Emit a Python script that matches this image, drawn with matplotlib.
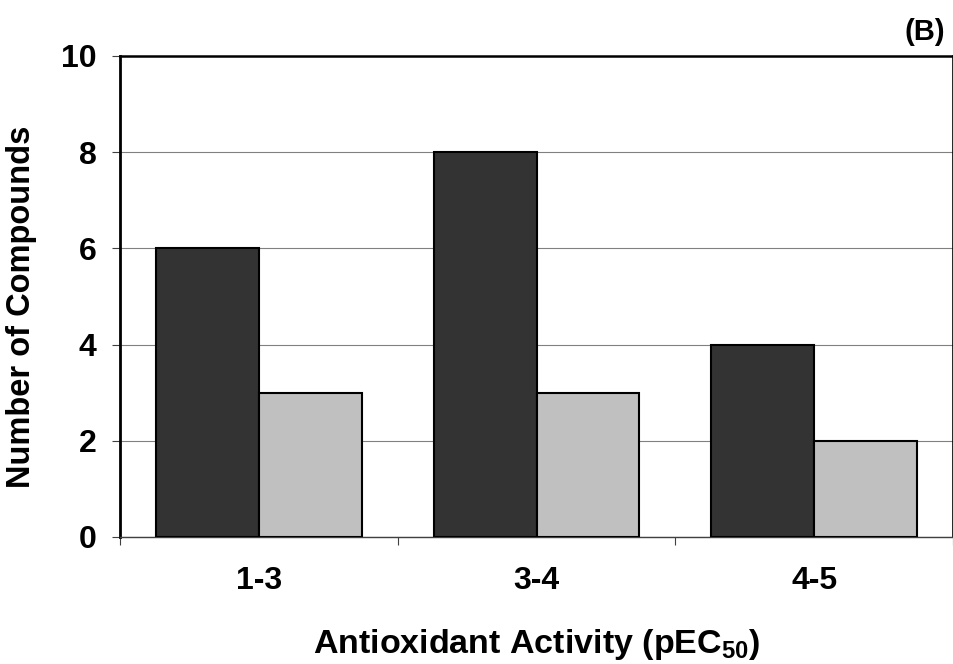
import matplotlib
matplotlib.use("Agg")
import matplotlib.pyplot as plt
import numpy as np

# dados
CATEGORIAS = ["1-3", "3-4", "4-5"]
SERIE_ESCURA = [6, 8, 4]
SERIE_CLARA = [3, 3, 2]

ESCURO = "#333333"
CLARO = "#c0c0c0"
TAM = 23

plt.rcParams.update({
    "font.family": ["Liberation Sans", "DejaVu Sans"],
    "font.weight": "bold",
    "mathtext.fontset": "custom",
    "mathtext.bf": "Liberation Sans:bold",
    "mathtext.rm": "Liberation Sans:bold",
    "mathtext.default": "bf",
})

fig = plt.figure(figsize=(9.54, 6.64), dpi=100)
ax = fig.add_axes([0.1258, 0.1913, 0.8732, 0.7244])

x = np.arange(len(CATEGORIAS))
largura = 0.37
ax.bar(x - largura / 2, SERIE_ESCURA, largura, color=ESCURO,
       edgecolor="black", linewidth=1.5, zorder=3)
ax.bar(x + largura / 2, SERIE_CLARA, largura, color=CLARO,
       edgecolor="black", linewidth=1.5, zorder=3)

ax.set_xlim(-0.5, len(CATEGORIAS) - 0.5)
ax.set_ylim(0, 10)
ax.set_yticks(np.arange(0, 11, 2))
ax.yaxis.grid(True, color="#808080", linewidth=0.8, zorder=0)

# rótulos no centro, marcas nos limites das categorias
ax.set_xticks(x)
ax.set_xticklabels(CATEGORIAS, fontsize=TAM, fontweight="bold")
ax.set_xticks(np.arange(-0.5, len(CATEGORIAS)), minor=True)
ax.tick_params(axis="x", which="major", length=0, pad=21)
ax.tick_params(axis="x", which="minor", length=6, width=0.8,
               color="#404040", direction="out")
ax.tick_params(axis="y", length=6, width=0.8, color="#404040",
               direction="out", pad=11, labelsize=TAM)
for t in ax.get_yticklabels():
    t.set_fontweight("bold")

ax.spines["left"].set_linewidth(2)
ax.spines["top"].set_linewidth(1.8)
ax.spines["right"].set_linewidth(1.2)
ax.spines["bottom"].set_linewidth(1.0)
ax.spines["bottom"].set_color("#404040")

ax.set_ylabel("Number of Compounds", fontsize=23.5, fontweight="bold")
ax.yaxis.set_label_coords(-0.1, 0.478)
ax.set_xlabel("Antioxidant Activity (pEC$_{50}$)", fontsize=24.5,
              fontweight="bold")
ax.xaxis.set_label_coords(0.5, -0.187)

fig.text(0.9906, 0.94, "(B)", ha="right", va="baseline", fontsize=21,
         fontweight="bold")

fig.savefig("out.png", dpi=100, facecolor="white")
